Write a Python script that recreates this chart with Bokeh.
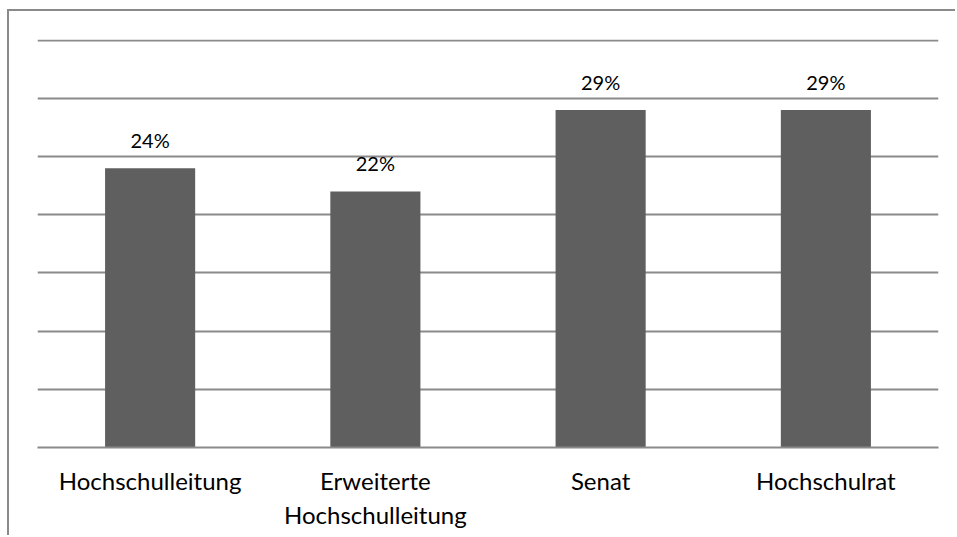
from bokeh.plotting import figure
from bokeh.models import ColumnDataSource, FixedTicker, Range1d
from bokeh.core.properties import value
from bokeh.embed import file_html
from bokeh.resources import INLINE

# Gremien und ihre Anteile in Prozent
categories = ["Hochschulleitung", "Erweiterte\nHochschulleitung", "Senat", "Hochschulrat"]
shares = [24, 22, 29, 29]
y_ticks = [0, 5, 10, 15, 20, 25, 30, 35]

FONT = "Lato"
GRID = "#8a8a8a"
BAR = "#5f5f5f"

source = ColumnDataSource(data=dict(
    cat=categories,
    share=shares,
    label=[f"{v}%" for v in shares],
))

# the chart sits inside a grey frame (top and left edges visible)
p = figure(
    x_range=categories, y_range=Range1d(0, 35.05),
    width=948, height=526,
    output_backend="svg", toolbar_location=None,
    min_border_left=28, min_border_right=19,
    min_border_top=28, min_border_bottom=90,
    outline_line_color=None,
    background_fill_color="white", border_fill_color="white",
    margin=(9, 0, 0, 7),
    styles={"border-top": f"2px solid {GRID}", "border-left": f"2px solid {GRID}"},
)

p.vbar(x="cat", top="share", width=0.4, source=source,
       fill_color=BAR, line_color=None)

p.text(x="cat", y="share", text="label", source=source,
       text_align="center", text_baseline="alphabetic",
       y_offset=-28, text_font=value(FONT), text_font_size="20px",
       text_color="#000000")

# horizontal grid only
p.xgrid.grid_line_color = None
p.ygrid.grid_line_color = GRID
p.ygrid.grid_line_width = 2
p.yaxis.ticker = FixedTicker(ticks=y_ticks)
p.yaxis.visible = False

xa = p.xaxis[0]
xa.axis_line_color = GRID
xa.axis_line_width = 2
xa.major_tick_line_color = None
xa.minor_tick_line_color = None
xa.major_label_text_font = FONT
xa.major_label_text_font_size = "24px"
xa.major_label_text_color = "#000000"
xa.major_label_text_baseline = "top"
xa.major_label_standoff = 12

open("out.html", "w").write(file_html(p, INLINE))
